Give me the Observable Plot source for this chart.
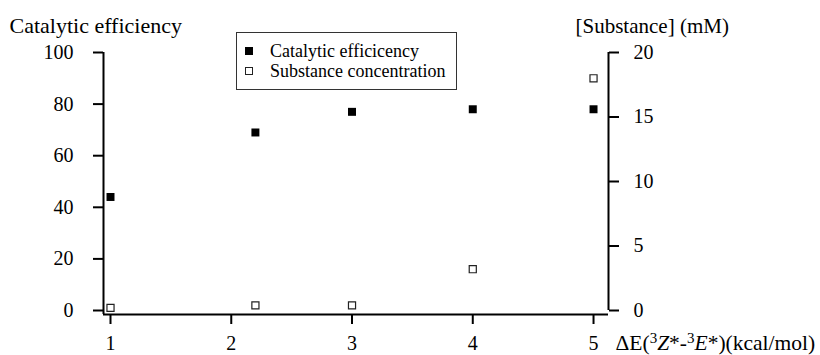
<!DOCTYPE html>
<html><head><meta charset="utf-8">
<script src="https://cdn.jsdelivr.net/npm/d3@7"></script>
<script src="https://cdn.jsdelivr.net/npm/@observablehq/plot@0.6"></script>
<style>
body{margin:0;background:#fff;}
#wrap{position:relative;width:820px;height:355px;font-family:"Liberation Serif","Times New Roman",Times,"DejaVu Serif",serif;}
#legend{position:absolute;z-index:1;left:236px;top:32px;width:221px;height:58px;border:1px solid #333;box-sizing:border-box;font-size:18px;background:#fff;}
.item{position:absolute;left:8px;display:flex;align-items:center;line-height:20px;white-space:nowrap;}
.sw{width:8px;height:8px;box-sizing:border-box;margin-right:17px;}
</style></head><body><div id="wrap"><div id="legend"></div></div>
<script>
const xValues = [1, 2.2, 3, 4, 5];
const efficiency = [44, 69, 77, 78, 78];
const substance = [0.2, 0.4, 0.4, 3.2, 18];
const leftTicks = [0, 20, 40, 60, 80, 100];
const rightTicks = [0, 5, 10, 15, 20];
const xTicks = [1, 2, 3, 4, 5];
const leftTitle = "Catalytic efficiency";
const rightTitle = "[Substance] (mM)";
const legendLabels = ["Catalytic efficicency", "Substance concentration"];
const xLabelParts = [["ΔE(", ""], ["3", "sup"], ["Z", "it"], ["*-", ""], ["3", "sup"], ["E", "it"], ["*)(kcal/mol)", ""]];
const XLABEL_SENTINEL = "__XLABEL__";

const xDomain = [0.942, 5.124];
const yDomain = [-1.55, 100];
const rightMax = 20;
const k = 100 / rightMax;
const serif = '"Liberation Serif", "Times New Roman", Times, "DejaVu Serif", serif';

const data = xValues.map((x, i) => ({x, eff: efficiency[i], sub: substance[i]}));

const plot = Plot.plot({
  width: 820, height: 355,
  marginLeft: 103, marginRight: 212, marginTop: 52, marginBottom: 41,
  x: {domain: xDomain},
  y: {domain: yDomain},
  style: {fontFamily: serif, fontSize: "20px", color: "#000", background: "#fff"},
  marks: [
    Plot.ruleX([xDomain[0]], {y1: yDomain[0], y2: 100, stroke: "#000", strokeWidth: 2}),
    Plot.ruleX([xDomain[1]], {y1: 0, y2: 100, stroke: "#000", strokeWidth: 2}),
    Plot.ruleY([yDomain[0]], {x1: xDomain[0], x2: xDomain[1], stroke: "#000", strokeWidth: 2}),
    Plot.axisY({anchor: "left", ticks: leftTicks, tickSize: 10, tickPadding: 20, label: null, strokeWidth: 2, fill: "#000", fontFamily: serif}),
    Plot.axisY({anchor: "right", ticks: rightTicks.map(v => v * k), tickFormat: v => String(Math.round(v / k)), tickSize: 10, tickPadding: 15, label: null, strokeWidth: 2, fill: "#000", fontFamily: serif}),
    Plot.axisX({ticks: xTicks, tickFormat: d => String(d), tickSize: 10, tickPadding: 11, label: null, strokeWidth: 2, fill: "#000", fontFamily: serif}),
    Plot.dot(data, {x: "x", y: "eff", symbol: "square", r: 4.5, fill: "#000", stroke: "none"}),
    Plot.dot(data, {x: "x", y: d => d.sub * k, symbol: "square", r: 4, fill: "#fff", stroke: "#222", strokeWidth: 1.2}),
    Plot.text([leftTitle], {text: d => d, frameAnchor: "top-left", textAnchor: "start", lineAnchor: "middle", dx: -94, dy: -26.5, fontSize: 22, fill: "#000", fontFamily: serif}),
    Plot.text([rightTitle], {text: d => d, frameAnchor: "top-right", textAnchor: "start", lineAnchor: "middle", dx: -33, dy: -26.5, fontSize: 21, fill: "#000", fontFamily: serif}),
    Plot.text([XLABEL_SENTINEL], {text: d => d, frameAnchor: "bottom-right", textAnchor: "start", lineAnchor: "middle", dx: 7, dy: 28.6, fontSize: 21.5, fill: "#000", fontFamily: serif})
  ]
});

const t = d3.select(plot).selectAll("text").filter(function() { return this.textContent === XLABEL_SENTINEL; });
t.text(null);
xLabelParts.forEach(([s, kind], i) => {
  const prev = i > 0 ? xLabelParts[i - 1][1] : "";
  const ts = t.append("tspan").text(s);
  let dy = 0;
  if (kind === "sup") dy -= 7;
  if (prev === "sup") dy += 7;
  ts.attr("dy", dy + "px");
  if (kind === "sup") ts.attr("font-size", "15px");
  if (kind === "it") ts.attr("font-style", "italic");
});

document.getElementById("wrap").appendChild(plot);

const legend = d3.select("#legend");
legendLabels.forEach((lab, i) => {
  const it = legend.append("div").attr("class", "item").style("top", (8 + 20 * i) + "px");
  it.append("div").attr("class", "sw")
    .style("background", i === 0 ? "#000" : "#fff")
    .style("border", i === 0 ? "none" : "1px solid #222");
  it.append("span").text(lab);
});
</script>
</body></html>
